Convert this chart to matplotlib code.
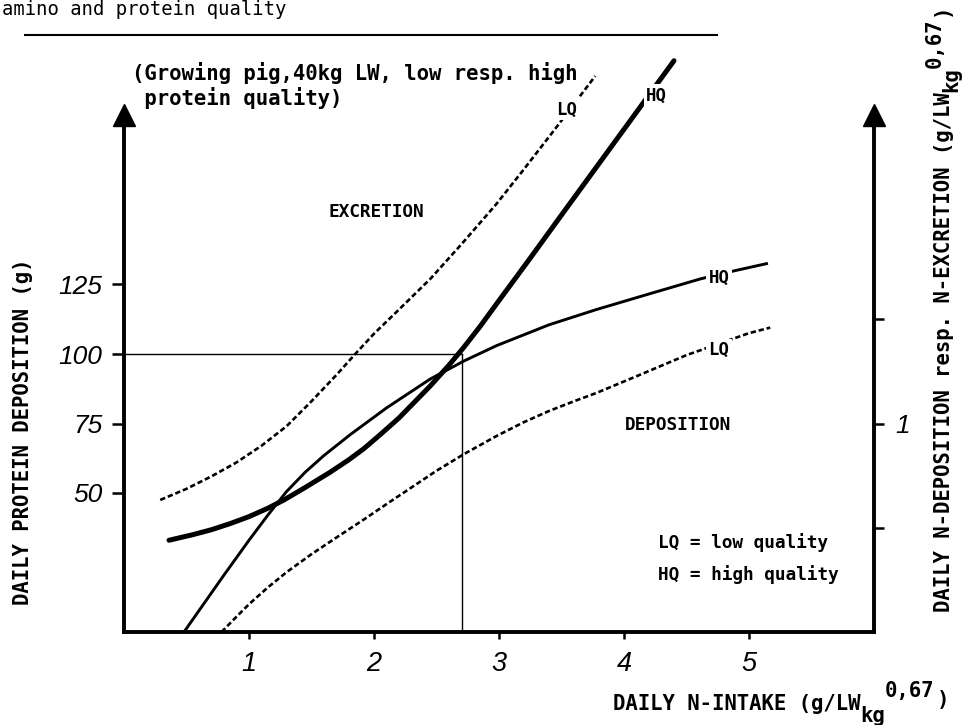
import numpy as np
import matplotlib.pyplot as plt
from matplotlib.lines import Line2D

# fuentes: texto tipo maquina de escribir, numeros en cursiva
MONO = 'DejaVu Sans Mono'
NUM = 'Liberation Sans'

# datos (x = ingesta diaria de N, y = proteina en g)
exc_hq_x = [0.36, 0.55, 0.7, 0.85, 1.0, 1.15, 1.28, 1.45, 1.65, 1.8, 1.92, 2.05, 2.2,
            2.45, 2.6, 2.72, 2.85, 2.98, 3.25, 3.5, 3.8, 4.1, 4.4]
exc_hq_y = [33, 35, 36.8, 39, 41.5, 44.5, 47.5, 52, 57.5, 62, 66, 71, 77,
            88.5, 96, 102.5, 110, 118, 134.5, 150, 168.5, 187, 205.5]

exc_lq_x = [0.29, 0.5, 0.7, 0.9, 1.1, 1.3, 1.5, 1.7, 1.85, 2.0, 2.2, 2.45, 2.7, 2.98,
            3.2, 3.46, 3.77]
exc_lq_y = [47.5, 51.5, 56, 61, 67, 74, 83, 92.5, 100, 107.3, 116, 127, 139.5, 154,
            166.5, 181.6, 200]

dep_hq_x = [0.48, 0.8, 1.0, 1.15, 1.3, 1.45, 1.6, 1.81, 2.1, 2.45, 2.72, 2.98, 3.4,
            3.78, 4.2, 4.61, 4.89, 5.14]
dep_hq_y = [0, 20.5, 33, 42, 50.5, 57.5, 63.5, 71, 80.6, 91, 97.5, 103, 110.5,
            116, 121.6, 127, 130, 132.5]

dep_lq_x = [0.78, 0.9, 1.0, 1.15, 1.3, 1.5, 1.7, 1.92, 2.1, 2.3, 2.5, 2.72, 2.98, 3.2,
            3.4, 3.6, 3.78, 4.1, 4.5, 5.0, 5.17]
dep_lq_y = [0, 5.5, 10, 16, 21.5, 28, 34, 40.5, 46, 52, 58, 64, 70.5, 75.5,
            79.5, 83, 86, 92, 99.6, 107.5, 109.5]

x_ticks = [1, 2, 3, 4, 5]
y_ticks = [50, 75, 100, 125]
n_ticks = [0.5, 1, 1.5]
n_labels = ['', '1', '']
g_per_n = 75          # 1 g N/LW^0,67 = 75 g proteina (40 kg)
ref_x, ref_y = 2.7, 100

fig = plt.figure(figsize=(9.65, 7.25), dpi=100)
W, H = 965.0, 725.0
rend = fig.canvas.get_renderer()

def px(x, y):
    return x / W, 1 - y / H

ax = fig.add_axes([124 / W, (H - 632) / H, 750 / W, 210 * 2.78 / H])
ax.set_xlim(0, 6)
ax.set_ylim(0, 210)

# ejes con flechas
ax.spines['top'].set_visible(False)
for s in ['left', 'right', 'bottom']:
    ax.spines[s].set_linewidth(2.8)
    ax.spines[s].set_capstyle('projecting')
ax.spines['left'].set_bounds(0, 182)
ax.spines['right'].set_bounds(0, 182)
ax.plot([0, 6], [186, 186], ls='none', marker='^', ms=16, color='black', clip_on=False)

# lineas de referencia
ax.plot([0, ref_x], [ref_y, ref_y], color='black', lw=1.0)
ax.plot([ref_x, ref_x], [0, ref_y], color='black', lw=1.0)

# curvas
ax.plot(exc_hq_x, exc_hq_y, color='black', lw=3.6, solid_capstyle='round', solid_joinstyle='round')
ax.plot(dep_hq_x, dep_hq_y, color='black', lw=2.1, solid_joinstyle='round')
ax.plot(exc_lq_x, exc_lq_y, color='black', lw=1.9, dashes=(2.0, 1.1))
ax.plot(dep_lq_x, dep_lq_y, color='black', lw=1.9, dashes=(2.0, 1.1))

box = dict(fc='white', ec='none', pad=1.5)
lab = dict(fontsize=12.5, family=MONO, weight='bold', ha='center', va='center', bbox=box)
ax.text(3.54, 188, 'LQ', **lab)
ax.text(4.26, 193, 'HQ', **lab)
ax.text(4.76, 127.5, 'HQ', **lab)
ax.text(4.76, 101.5, 'LQ', **lab)

# ticks
ax.set_xticks(x_ticks)
ax.set_yticks(y_ticks)
ax.tick_params(axis='x', direction='out', length=5, width=1.8, pad=9, labelsize=19.5)
ax.tick_params(axis='y', direction='out', length=8.5, width=1.8, pad=7, labelsize=19)
for lbl in ax.get_xticklabels() + ax.get_yticklabels():
    lbl.set_fontfamily(NUM)
    lbl.set_fontstyle('italic')

sec = ax.secondary_yaxis('right', functions=(lambda y: y / g_per_n, lambda n: n * g_per_n))
sec.set_yticks(n_ticks, labels=n_labels)
sec.tick_params(direction='out', length=7.5, width=1.8, pad=8, labelsize=19)
for s in sec.spines.values():
    s.set_visible(False)
for lbl in sec.get_yticklabels():
    lbl.set_fontfamily(NUM)
    lbl.set_fontstyle('italic')

# textos dentro del grafico
kw = dict(family=MONO, weight='bold', fontsize=12.8)
fig.text(*px(376, 212), 'EXCRETION', ha='center', va='center', **kw)
fig.text(*px(678, 425), 'DEPOSITION', ha='center', va='center', **kw)
fig.text(*px(658, 543), 'LQ = low quality', ha='left', va='center', **kw)
fig.text(*px(658, 575), 'HQ = high quality', ha='left', va='center', **kw)

# titulos y etiquetas
big = dict(family=MONO, weight='bold', fontsize=14.9)
fig.text(*px(132, 80), '(Growing pig,40kg LW, low resp. high', ha='left', va='baseline', **big)
fig.text(*px(132, 105), ' protein quality)', ha='left', va='baseline', **big)
fig.text(*px(2, 15), 'amino and protein quality', ha='left', va='baseline',
         family=MONO, fontsize=13.6)
fig.add_artist(Line2D([25 / W, 717 / W], [1 - 35 / H, 1 - 35 / H], color='black', lw=1.5))

fig.text(*px(23, 432), 'DAILY PROTEIN DEPOSITION (g)', rotation=90, ha='center', va='center', **big)

# eje x: LW con subindice kg y exponente 0,67 casi a tamano normal
t = fig.text(*px(613, 710), 'DAILY N-INTAKE (g/LW', ha='left', va='baseline', **big)
x_end = t.get_window_extent(rend).x1
t = fig.text(x_end / W, 1 - 722 / H, 'kg', ha='left', va='baseline', **big)
x_end = t.get_window_extent(rend).x1
t = fig.text(x_end / W, 1 - 697 / H, '0,67', ha='left', va='baseline', **big)
x_end = t.get_window_extent(rend).x1
fig.text((x_end + 2) / W, 1 - 706 / H, ')', ha='left', va='baseline', **big)

# eje derecho (texto girado)
t = fig.text(*px(944, 612), 'DAILY N-DEPOSITION resp. N-EXCRETION (g/LW', rotation=90,
             ha='center', va='bottom', **big)
y_end = t.get_window_extent(rend).y1
t = fig.text(951 / W, y_end / H, 'kg', rotation=90, ha='center', va='bottom', **big)
y_end = t.get_window_extent(rend).y1
t = fig.text(935 / W, y_end / H, '0,67', rotation=90, ha='center', va='bottom', **big)
y_end = t.get_window_extent(rend).y1
fig.text(942 / W, (y_end + 2) / H, ')', rotation=90, ha='center', va='bottom', **big)

fig.savefig('out.png', dpi=100)
